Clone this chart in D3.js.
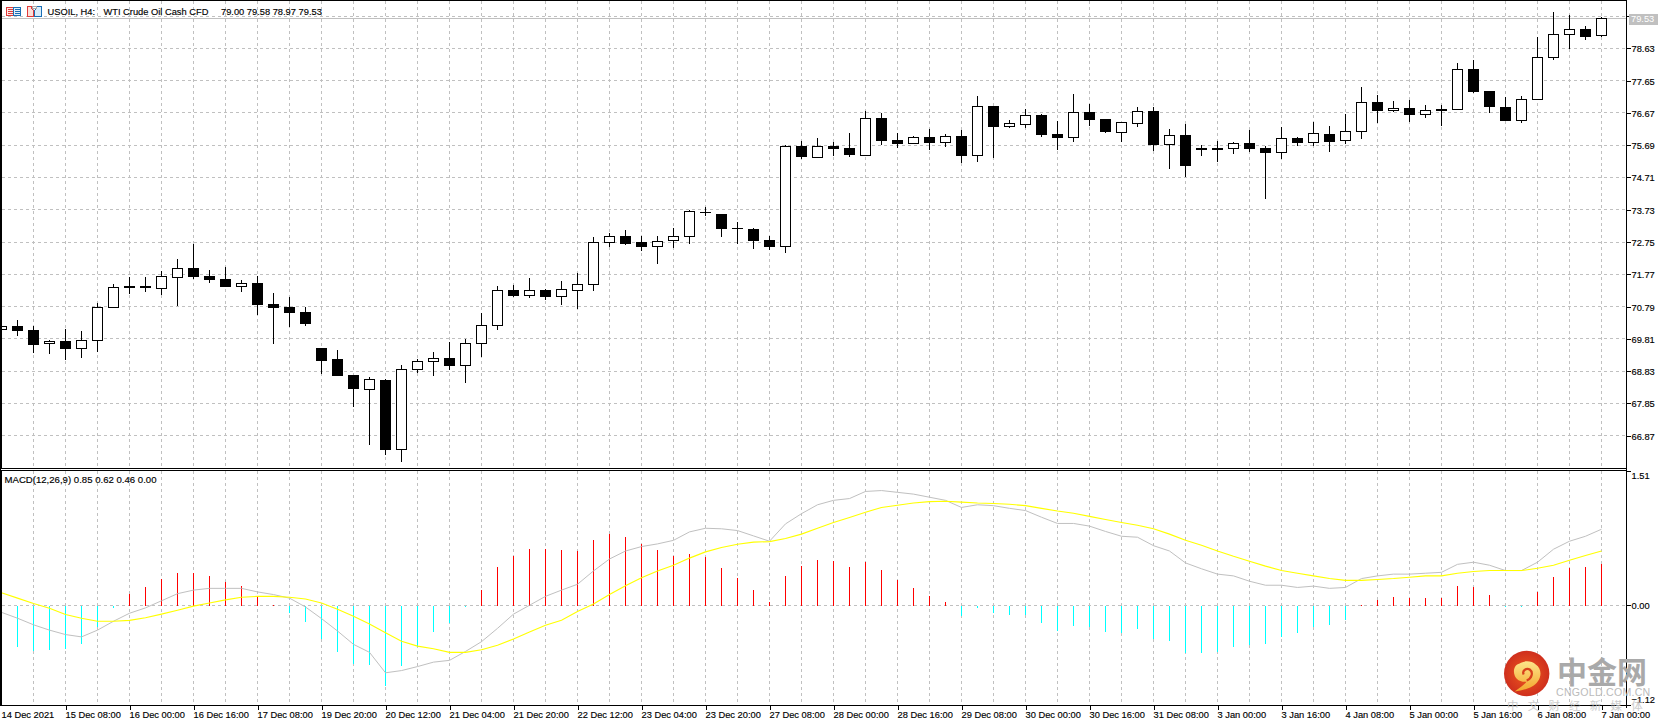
<!DOCTYPE html>
<html><head><meta charset="utf-8">
<style>
html,body{margin:0;padding:0;background:#fff;overflow:hidden}
svg{display:block}
text{font-family:"Liberation Sans",Arial,sans-serif;font-size:9.3px;fill:#000;stroke:#000;stroke-width:0.15px}
</style>
<script src="https://cdn.jsdelivr.net/npm/d3@7/dist/d3.min.js"></script>
</head><body><svg id="c" width="1661" height="723"></svg>
<script>
const opens=[70.09,70.20,70.08,69.66,69.74,69.51,69.78,70.76,71.41,71.41,71.36,71.67,71.96,71.72,71.63,71.39,71.50,70.87,70.78,70.62,69.53,69.20,68.71,68.27,68.56,66.44,68.90,69.12,69.23,68.99,69.67,70.21,71.28,71.12,71.28,71.09,71.30,71.46,72.73,72.92,72.75,72.61,72.80,72.91,73.66,73.60,73.17,73.15,72.81,72.61,75.67,75.34,75.67,75.60,75.40,76.52,75.85,75.74,75.94,75.77,75.97,75.37,76.88,76.25,76.34,76.61,76.03,75.92,76.70,76.49,76.10,76.37,76.73,75.71,76.00,75.61,75.61,75.59,75.75,75.60,75.46,75.91,75.77,76.03,75.83,76.10,77.00,76.74,76.82,76.62,76.79,76.77,78.00,77.33,76.85,76.43,77.07,78.35,79.06,79.22,79.00];
const highs=[70.21,70.38,70.20,69.77,70.11,70.05,70.89,71.47,71.69,71.69,71.87,72.23,72.69,71.90,71.99,71.60,71.72,71.20,71.08,70.78,69.53,69.47,68.71,68.65,68.59,69.01,69.20,69.40,69.70,69.81,70.60,71.40,71.44,71.65,71.32,71.56,71.80,72.89,73.01,73.11,72.93,72.92,73.17,73.72,73.80,73.60,73.35,73.17,72.92,75.70,75.82,75.91,75.79,76.06,76.73,76.67,76.06,75.97,76.18,76.03,76.15,77.18,76.88,76.45,76.79,76.64,76.42,77.24,76.94,76.49,76.40,76.85,76.85,76.18,76.33,75.70,75.82,75.79,76.15,75.66,76.24,75.94,76.39,76.27,76.64,77.46,77.21,77.03,77.06,76.91,76.91,78.18,78.28,77.33,77.15,77.18,78.97,79.73,79.64,79.31,79.58];
const lows=[70.05,69.90,69.38,69.35,69.17,69.23,69.41,70.76,71.17,71.23,71.14,70.81,71.63,71.50,71.38,71.23,70.53,69.65,70.17,70.20,68.74,68.68,67.74,66.59,66.28,66.07,68.77,68.69,68.86,68.47,69.26,70.08,71.07,71.06,70.99,70.84,70.72,71.26,72.59,72.66,72.48,72.08,72.57,72.69,73.54,72.90,72.69,72.54,72.51,72.42,75.27,75.34,75.36,75.33,75.36,75.70,75.61,75.74,75.53,75.64,75.15,75.18,75.30,76.21,76.21,75.94,75.54,75.79,76.27,76.06,75.79,76.24,75.51,74.97,74.73,75.36,75.18,75.42,75.48,74.06,75.27,75.67,75.67,75.48,75.73,75.88,76.36,76.70,76.39,76.52,76.27,76.77,77.27,76.67,76.41,76.36,77.07,78.28,78.61,78.88,78.97];
const closes=[70.19,70.05,69.62,69.73,69.50,69.76,70.77,71.37,71.35,71.35,71.71,71.95,71.69,71.60,71.38,71.49,70.84,70.75,70.59,70.26,69.14,68.68,68.29,68.58,66.43,68.88,69.13,69.22,69.00,69.67,70.22,71.28,71.12,71.28,71.09,71.31,71.47,72.74,72.92,72.69,72.60,72.77,72.92,73.68,73.64,73.15,73.13,72.78,72.60,75.66,75.33,75.66,75.57,75.39,76.51,75.82,75.73,75.93,75.76,75.96,75.36,76.87,76.24,76.35,76.60,76.00,75.91,76.69,76.45,76.09,76.39,76.72,75.70,75.99,75.06,75.54,75.54,75.75,75.57,75.45,75.90,75.76,76.05,75.79,76.11,76.99,76.73,76.81,76.61,76.75,76.74,77.99,77.30,76.85,76.42,77.08,78.36,79.06,79.21,78.97,79.53];
const histogram=[-0.30,-0.47,-0.51,-0.50,-0.49,-0.435,-0.24,-0.03,0.13,0.21,0.30,0.36,0.36,0.33,0.26,0.22,0.10,0,-0.09,-0.19,-0.375,-0.53,-0.66,-0.67,-0.91,-0.68,-0.47,-0.30,-0.20,-0.02,0.17,0.43,0.555,0.63,0.63,0.62,0.61,0.735,0.80,0.77,0.69,0.62,0.555,0.58,0.54,0.42,0.31,0.17,0.04,0.33,0.44,0.51,0.50,0.43,0.49,0.40,0.285,0.195,0.105,0.04,-0.12,-0.03,-0.086,-0.11,-0.11,-0.20,-0.285,-0.236,-0.24,-0.30,-0.31,-0.27,-0.38,-0.40,-0.54,-0.54,-0.525,-0.47,-0.45,-0.435,-0.36,-0.31,-0.24,-0.22,-0.17,0,0.06,0.094,0.08,0.08,0.08,0.22,0.21,0.116,-0.02,-0.015,0.15,0.32,0.42,0.43,0.46];
const macdLine=[-0.08,-0.146,-0.22,-0.28,-0.33,-0.356,-0.28,-0.18,-0.09,-0.03,0.05,0.13,0.17,0.19,0.19,0.19,0.15,0.12,0.08,-0.02,-0.15,-0.29,-0.44,-0.53,-0.76,-0.735,-0.69,-0.64,-0.62,-0.52,-0.41,-0.26,-0.10,0.0,0.10,0.17,0.236,0.386,0.52,0.61,0.66,0.69,0.73,0.825,0.866,0.86,0.84,0.78,0.72,0.915,1.03,1.13,1.18,1.20,1.28,1.29,1.27,1.25,1.215,1.18,1.10,1.13,1.12,1.09,1.065,0.99,0.92,0.92,0.89,0.83,0.776,0.765,0.67,0.61,0.476,0.41,0.35,0.33,0.27,0.225,0.225,0.20,0.215,0.19,0.20,0.30,0.33,0.35,0.35,0.36,0.37,0.46,0.484,0.45,0.39,0.39,0.484,0.63,0.72,0.776,0.855];
const signalLine=[0.14,0.08,0.02,-0.034,-0.105,-0.146,-0.18,-0.18,-0.17,-0.14,-0.10,-0.056,-0.01,0.026,0.06,0.09,0.10,0.10,0.09,0.07,0.026,-0.045,-0.124,-0.21,-0.31,-0.405,-0.46,-0.49,-0.53,-0.53,-0.50,-0.45,-0.38,-0.30,-0.225,-0.17,-0.07,0.015,0.12,0.22,0.31,0.386,0.45,0.53,0.60,0.65,0.686,0.71,0.716,0.75,0.80,0.866,0.93,0.986,1.046,1.10,1.125,1.15,1.166,1.17,1.16,1.15,1.144,1.136,1.12,1.09,1.06,1.035,1.00,0.964,0.93,0.90,0.86,0.80,0.73,0.675,0.61,0.55,0.495,0.44,0.39,0.36,0.33,0.30,0.28,0.28,0.29,0.30,0.315,0.33,0.33,0.36,0.38,0.39,0.39,0.39,0.416,0.45,0.506,0.56,0.61];
const timeLabels=["14 Dec 2021","15 Dec 08:00","16 Dec 00:00","16 Dec 16:00","17 Dec 08:00","19 Dec 20:00","20 Dec 12:00","21 Dec 04:00","21 Dec 20:00","22 Dec 12:00","23 Dec 04:00","23 Dec 20:00","27 Dec 08:00","28 Dec 00:00","28 Dec 16:00","29 Dec 08:00","30 Dec 00:00","30 Dec 16:00","31 Dec 08:00","3 Jan 00:00","3 Jan 16:00","4 Jan 08:00","5 Jan 00:00","5 Jan 16:00","6 Jan 08:00","7 Jan 00:00"];
const priceTicks=[79.61,78.63,77.65,76.67,75.69,74.71,73.73,72.75,71.77,70.79,69.81,68.83,67.85,66.87];
const macdTicks=[1.51,0,-1.12];
const lastPrice=79.53;
const title=["USOIL, H4:","WTI Crude Oil Cash CFD","79.00 79.58 78.97 79.53"];
const macdTitle="MACD(12,26,9) 0.85 0.62 0.46 0.00";

const svg=d3.select("#c");
const RIGHT=1626.5, MAIN_BOTTOM=468.5, SUB_TOP=470.5, SUB_BOTTOM=705.5;
const x=d3.scaleLinear().domain([0,100]).range([1.5,1601.5]);
const yP=d3.scaleLinear().domain([66.87,78.63]).range([435.7,48.3]);
const yM=d3.scaleLinear().domain([-1.12,1.51]).range([704.8,471]);
const snap=v=>Math.round(v)+0.5;
const idx=d3.range(opens.length);

// grid
const grid=svg.append("g").attr("stroke","#c0c0c0").attr("stroke-dasharray","3,3").attr("shape-rendering","crispEdges");
grid.selectAll(".vm").data(idx.filter(i=>i%2===0)).join("line")
  .attr("x1",i=>snap(x(i)-0.5)).attr("x2",i=>snap(x(i)-0.5)).attr("y1",1).attr("y2",MAIN_BOTTOM);
grid.selectAll(".vs").data(idx.filter(i=>i%2===0),(d,n)=>n).enter().append("line")
  .attr("x1",i=>snap(x(i)-0.5)).attr("x2",i=>snap(x(i)-0.5)).attr("y1",SUB_TOP).attr("y2",SUB_BOTTOM);
grid.selectAll(".hm").data(priceTicks,(d,n)=>n).enter().append("line")
  .attr("x1",2).attr("x2",RIGHT).attr("y1",d=>snap(yP(d)-0.5)).attr("y2",d=>snap(yP(d)-0.5));
grid.append("line").attr("x1",2).attr("x2",RIGHT).attr("y1",snap(yM(0)-0.5)).attr("y2",snap(yM(0)-0.5));

// last price line
svg.append("line").attr("x1",2).attr("x2",RIGHT).attr("y1",snap(yP(lastPrice)-0.5)).attr("y2",snap(yP(lastPrice)-0.5))
  .attr("stroke","#c0c0c0").attr("shape-rendering","crispEdges");

// histogram
svg.append("g").attr("shape-rendering","crispEdges").selectAll("line").data(idx).join("line")
  .attr("x1",i=>snap(x(i)-0.5)).attr("x2",i=>snap(x(i)-0.5))
  .attr("y1",snap(yM(0)-0.5)).attr("y2",i=>Math.round(yM(histogram[i])))
  .attr("stroke",i=>histogram[i]>=0?"#ff0000":"#00ffff").attr("stroke-width",i=>i%3===0?1:1.4);

// MACD lines
const ln=a=>d3.line().x((d,i)=>x(i)).y(d=>yM(d))(a);
svg.append("path").attr("d",ln(macdLine)).attr("fill","none").attr("stroke","#c0c0c0").attr("stroke-width",1);
svg.append("path").attr("d",ln(signalLine)).attr("fill","none").attr("stroke","#ffff00").attr("stroke-width",1.1);

// candles
const candle=svg.append("g").attr("shape-rendering","crispEdges");
candle.selectAll(".w").data(idx).enter().append("line")
  .attr("x1",i=>snap(x(i)-0.5)).attr("x2",i=>snap(x(i)-0.5))
  .attr("y1",i=>Math.round(yP(highs[i]))).attr("y2",i=>Math.round(yP(lows[i])))
  .attr("stroke","#000");
candle.selectAll(".b").data(idx,(d,n)=>n).enter().append("rect")
  .attr("x",i=>closes[i]>=opens[i]?snap(x(i)-0.5)-5:snap(x(i)-0.5)-5.5)
  .attr("width",i=>closes[i]>=opens[i]?10:11)
  .attr("y",i=>closes[i]>=opens[i]?snap(yP(closes[i])-0.5):Math.round(yP(opens[i])))
  .attr("height",i=>closes[i]>=opens[i]
      ?Math.max(1,Math.round(yP(opens[i])-yP(closes[i])))
      :Math.max(1,Math.round(yP(closes[i]))-Math.round(yP(opens[i]))))
  .attr("fill",i=>closes[i]>=opens[i]?"#fff":"#000")
  .attr("stroke",i=>closes[i]>=opens[i]?"#000":"none");

// frames
const fr=svg.append("g").attr("stroke","#000").attr("shape-rendering","crispEdges");
[[0,0.5,RIGHT,0.5],[0,MAIN_BOTTOM,RIGHT,MAIN_BOTTOM],[0,SUB_TOP,RIGHT,SUB_TOP],[0,SUB_BOTTOM,RIGHT,SUB_BOTTOM],[0.5,0,0.5,SUB_BOTTOM],[1.5,0,1.5,MAIN_BOTTOM],[1.5,SUB_TOP,1.5,SUB_BOTTOM],[RIGHT,0,RIGHT,SUB_BOTTOM+2]]
 .forEach(c=>fr.append("line").attr("x1",c[0]).attr("y1",c[1]).attr("x2",c[2]).attr("y2",c[3]));

// axes
const axP=svg.append("g").attr("transform",`translate(${RIGHT},0)`)
  .call(d3.axisRight(yP).tickValues(priceTicks).tickSize(4).tickPadding(1).tickFormat(d3.format(".2f")));
const axM=svg.append("g").attr("transform",`translate(${RIGHT},0)`)
  .call(d3.axisRight(yM).tickValues(macdTicks).tickSize(4).tickPadding(1).tickFormat(d3.format(".2f")));
const axX=svg.append("g").attr("transform",`translate(0,${SUB_BOTTOM})`)
  .call(d3.axisBottom(x).tickValues(timeLabels.map((d,k)=>k*4)).tickSize(4).tickFormat((d,k)=>timeLabels[k]));
[axP,axM,axX].forEach(a=>{a.select(".domain").remove();a.selectAll("line").attr("stroke","#000").attr("shape-rendering","crispEdges");a.selectAll("text").style("fill","#000");});
svg.selectAll("g").attr("font-family",null).attr("font-size",null);
axX.selectAll("text").attr("text-anchor","start").attr("dy",null).attr("y",12).attr("x",-0.5);
axX.selectAll("line").filter(d=>d===0).remove();
axP.selectAll("text").attr("y",0.5);
axM.selectAll("text").attr("y",(d)=>d===1.51?4.5:d===-1.12?-5.5:0.5);

// last price tag
svg.append("rect").attr("x",1629).attr("y",Math.round(yP(lastPrice))-5).attr("width",29).attr("height",11).attr("fill","#c0c0c0");
svg.append("text").attr("x",1631).attr("y",yP(lastPrice)+3.5).style("fill","#fff").style("stroke","none").text(d3.format(".2f")(lastPrice));

// title row
svg.selectAll(".t").data(title).enter().append("text")
  .attr("x",(d,i)=>[47.5,103.5,221][i]).attr("y",14.5).text(d=>d);
svg.append("text").attr("x",4.5).attr("y",483).style("font-size","9.6px").text(macdTitle);

// toolbar icons
const ic=svg.append("g").attr("fill","#fff").attr("stroke-width",1).attr("shape-rendering","crispEdges");
ic.append("rect").attr("x",6.5).attr("y",7.5).attr("width",7).attr("height",8).attr("stroke","#e03a3a").attr("fill","#fde8e4");
ic.append("rect").attr("x",13.5).attr("y",7.5).attr("width",7).attr("height",8).attr("stroke","#1a6fb5").attr("fill","#e4f0fa");
[9.5,11.5,13.5].forEach(y=>{ic.append("line").attr("x1",8).attr("x2",13).attr("y1",y).attr("y2",y).attr("stroke","#e03a3a");ic.append("line").attr("x1",15).attr("x2",20).attr("y1",y).attr("y2",y).attr("stroke","#1a6fb5");});
ic.append("path").attr("d","M27.5 6.5H31.5V8.5L33.5 10.5V16.5H27.5Z").attr("stroke","#e03a3a").attr("fill","#fde0da");
ic.append("path").attr("d","M36.5 6.5H41.5V16.5H34.5V10.5L36.5 8.5Z").attr("stroke","#1a6fb5").attr("fill","#d8ecfa");
ic.append("rect").attr("x",32.5).attr("y",6.5).attr("width",4).attr("height",2).attr("stroke","#aaa").attr("fill","#fff");

// watermark
const defs=svg.append("defs");
const rg=defs.append("radialGradient").attr("id","lg");
rg.append("stop").attr("offset","0%").attr("stop-color","#ee5a1e");
rg.append("stop").attr("offset","100%").attr("stop-color","#cf2f1d");
const yg=defs.append("linearGradient").attr("id","yg").attr("x1",0).attr("y1",0).attr("x2",0).attr("y2",1);
yg.append("stop").attr("offset","0%").attr("stop-color","#fde58a");
yg.append("stop").attr("offset","100%").attr("stop-color","#f3a52c");
const wm=svg.append("g").attr("transform","translate(1526.7,673.5)");
wm.append("circle").attr("r",22.7).attr("fill","url(#lg)");
wm.append("path").attr("d","M-12 18C-3 17 7 14 11 8C15 3 15 -5 9 -9C5 -13 -3 -13 -7 -10C-12 -9 -14 -3 -12 2C-10 7 -5 9 0 8C-2 11 -7 14 -12 18Z").attr("fill","url(#yg)");
wm.append("path").attr("d","M-3 1C-5 -3 0 -6 3 -4C7 -1 5 5 0 7").attr("fill","none").attr("stroke","#d8401c").attr("stroke-width",2.2);
const cjk='"Noto Sans CJK SC",sans-serif';
svg.append("text").attr("x",1557).attr("y",683).style("font-family",cjk).style("font-size","30px").style("font-weight",700).style("fill","#a9a9a9").style("stroke","none").text("中金网");
svg.append("text").attr("x",1556).attr("y",695.5).style("font-size","10.6px").style("letter-spacing","0.25px").style("fill","#bbb").style("stroke","none").text("CNGOLD.COM.CN");
svg.append("text").attr("x",1507).attr("y",709.5).style("font-family",cjk).style("font-size","11.5px").style("letter-spacing","9.2px").style("fill","#c4c4c4").style("stroke","none").attr("opacity",0.85).text("中文财经新媒体");
</script></body></html>
